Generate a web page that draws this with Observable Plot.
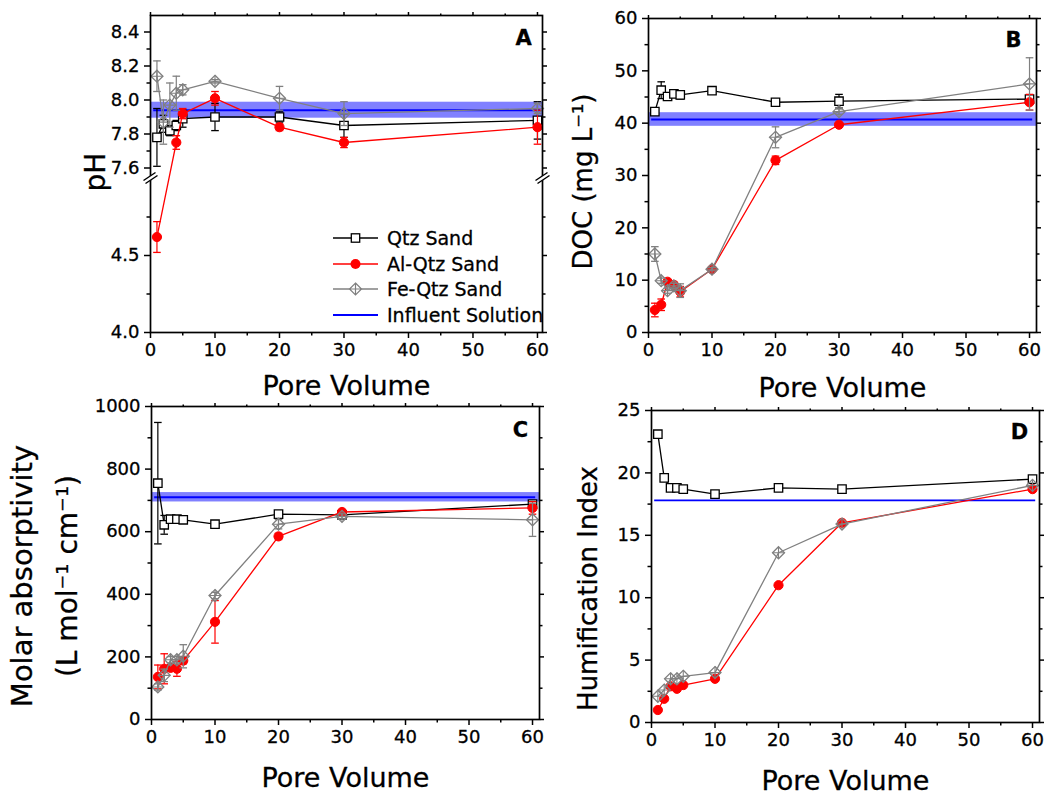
<!DOCTYPE html>
<html><head><meta charset="utf-8">
<script src="https://cdn.jsdelivr.net/npm/d3@7"></script>
<script src="https://cdn.jsdelivr.net/npm/@observablehq/plot@0.6"></script>
<style>
body{margin:0;background:#fff;}
#wrap{position:relative;width:1047px;height:797px;overflow:hidden;font-family:"DejaVu Sans",sans-serif;background:#fff;}
#wrap > *{position:absolute;}
#wrap text{stroke:#000;stroke-width:0.3px;}
</style></head><body><div id="wrap"></div>
<script>
// ---------------- data ----------------
const poreVolume = [1, 2, 3, 4, 5, 10, 20, 30, 60];
const seriesNames = ["Qtz Sand", "Al-Qtz Sand", "Fe-Qtz Sand", "Influent Solution"];

// A: pH
const phQtz    = [7.78, 7.86, 7.82, 7.85, 7.89, 7.90, 7.90, 7.85, 7.88];
const phQtzErr = [0.17, 0.05, 0.03, 0.03, 0.05, 0.08, 0.03, 0.07, 0.11];
const phAlX    = [1, 4, 5, 10, 20, 30, 60];
const phAl     = [4.62, 7.75, 7.92, 8.01, 7.84, 7.75, 7.84];
const phAlErr  = [0.10, 0.04, 0.03, 0.04, 0.02, 0.03, 0.10];
const phFe     = [8.14, 7.87, 7.97, 8.04, 8.06, 8.11, 8.01, 7.92, 7.95];
const phFeErr  = [0.09, 0.13, 0.13, 0.10, 0.03, 0.01, 0.07, 0.07, 0.03];
const phInfluent = [7.94], phInfluentSd = [0.047];
const phTicks = [4.0, 4.5, 7.6, 7.8, 8.0, 8.2, 8.4];
const phMinorTicks = [4.25, 4.75, 7.7, 7.9, 8.1, 8.3];

// B: DOC (mg/L)
const docQtz    = [42.2, 46.3, 45.1, 45.6, 45.4, 46.2, 44.0, 44.2, 44.6];
const docQtzErr = [0.3, 1.6, 0.3, 0.3, 0.8, 0.3, 0.4, 1.3, 0.5];
const docAl     = [4.3, 5.3, 9.7, 9.1, 7.8, 12.1, 32.9, 39.7, 44.0];
const docAlErr  = [1.3, 1.1, 0.4, 0.5, 1.0, 0.4, 0.8, 0.3, 1.5];
const docFe     = [15.0, 9.9, 8.0, 8.9, 8.0, 12.1, 37.3, 42.2, 47.5];
const docFeErr  = [1.4, 0.5, 0.5, 0.5, 1.3, 0.3, 2.0, 0.5, 5.0];
const docInfluent = [40.7], docInfluentSd = [1.3];
const docTicks = [0, 10, 20, 30, 40, 50, 60];
const docMinorTicks = [5, 15, 25, 35, 45, 55];

// C: molar absorptivity
const maQtz    = [755, 622, 640, 640, 638, 624, 656, 654, 688];
const maQtzErr = [194, 30, 8, 8, 5, 5, 8, 8, 8];
const maAl     = [136, 162, 165, 162, 188, 312, 585, 663, 676];
const maAlErr  = [38, 48, 10, 24, 10, 68, 10, 8, 20];
const maFe     = [104, 141, 191, 191, 202, 396, 624, 649, 638];
const maFeErr  = [10, 20, 10, 10, 37, 10, 15, 8, 53];
const maInfluent = [710], maInfluentSd = [15];
const maTicks = [0, 200, 400, 600, 800, 1000];
const maMinorTicks = [100, 300, 500, 700, 900];

// D: humification index
const hixQtz = [23.1, 19.6, 18.8, 18.8, 18.7, 18.3, 18.8, 18.7, 19.5];
const hixAl  = [1.0, 1.9, 2.9, 2.7, 3.0, 3.5, 11.0, 16.0, 18.7];
const hixFe  = [2.1, 2.6, 3.5, 3.5, 3.7, 4.0, 13.6, 15.9, 19.0];
const hixInfluent = [17.8];
const hixTicks = [0, 5, 10, 15, 20, 25];
const hixMinorTicks = [2.5, 7.5, 12.5, 17.5, 22.5];

const xTicks = [0, 10, 20, 30, 40, 50, 60];
const xMinorTicks = [5, 15, 25, 35, 45, 55];
const influentSpan = [0.5, 60.5];

// ---------------- styling ----------------
const FONT = "DejaVu Sans";
const C_QTZ = "#000000", C_AL = "#ff0000", C_FE = "#808080", C_INF = "#0000ff", C_BAND = "#8080ff";

const squareSym  = {draw(c){const s=4.2; c.moveTo(-s,-s); c.lineTo(s,-s); c.lineTo(s,s); c.lineTo(-s,s); c.closePath();}};
const diamondSym = {draw(c){const s=6; c.moveTo(0,-s); c.lineTo(s,0); c.lineTo(0,s); c.lineTo(-s,0); c.closePath();}};
const plusSym    = {draw(c){const s=6; c.moveTo(-s,0); c.lineTo(s,0); c.moveTo(0,-s); c.lineTo(0,s);}};
const capSym     = {draw(c){const s=3.8; c.moveTo(-s,0); c.lineTo(s,0);}};
const breakFill  = {draw(c){c.moveTo(-7,3); c.lineTo(5,-5); c.lineTo(7,-2); c.lineTo(-5,6); c.closePath();}};
const breakLines = {draw(c){c.moveTo(-7,3); c.lineTo(5,-5); c.moveTo(-5,6); c.lineTo(7,-2);}};

function rows(xs, ys, es, tf = v => v) {
  return xs.map((x, i) => {
    const e = es ? es[i] : 0;
    return {x, y: tf(ys[i]), lo: tf(ys[i] - e), hi: tf(ys[i] + e)};
  });
}

function seriesMarks(data, kind, withErr) {
  const color = kind === "qtz" ? C_QTZ : kind === "al" ? C_AL : C_FE;
  const m = [];
  if (withErr) {
    m.push(Plot.ruleX(data, {x: "x", y1: "lo", y2: "hi", stroke: color, strokeWidth: 1.2}));
    m.push(Plot.dot(data, {x: "x", y: "lo", symbol: capSym, fill: "none", stroke: color, strokeWidth: 1.3}));
    m.push(Plot.dot(data, {x: "x", y: "hi", symbol: capSym, fill: "none", stroke: color, strokeWidth: 1.3}));
  }
  m.push(Plot.line(data, {x: "x", y: "y", stroke: color, strokeWidth: 1.3}));
  if (kind === "qtz") {
    m.push(Plot.dot(data, {x: "x", y: "y", symbol: squareSym, fill: "white", stroke: C_QTZ, strokeWidth: 1.3}));
  } else if (kind === "al") {
    m.push(Plot.dot(data, {x: "x", y: "y", symbol: "circle", r: 4.6, fill: C_AL, stroke: C_AL, strokeWidth: 1}));
  } else {
    m.push(Plot.dot(data, {x: "x", y: "y", symbol: diamondSym, fill: "none", stroke: C_FE, strokeWidth: 1.3}));
    m.push(Plot.dot(data, {x: "x", y: "y", symbol: plusSym, fill: "none", stroke: C_FE, strokeWidth: 1.1}));
  }
  return m;
}

function axesMarks(yTicksT, yMinorT, yFmt) {
  const common = {label: null, stroke: "black", strokeWidth: 1.5, fontSize: 18};
  const blank = () => "";
  return [
    Plot.axisX(xTicks, {...common, anchor: "bottom", tickSize: 6, tickPadding: 5}),
    Plot.axisX(xMinorTicks, {...common, anchor: "bottom", tickSize: 3.5, tickFormat: blank}),
    Plot.axisX(xTicks, {...common, anchor: "top", tickSize: 4, tickFormat: blank}),
    Plot.axisX(xMinorTicks, {...common, anchor: "top", tickSize: 2.5, tickFormat: blank}),
    Plot.axisY(yTicksT, {...common, anchor: "left", tickSize: 6, tickPadding: 5, tickFormat: yFmt}),
    Plot.axisY(yMinorT, {...common, anchor: "left", tickSize: 3.5, tickFormat: blank}),
    Plot.axisY(yTicksT, {...common, anchor: "right", tickSize: 4, tickFormat: blank}),
    Plot.axisY(yMinorT, {...common, anchor: "right", tickSize: 2.5, tickFormat: blank}),
    Plot.frame({stroke: "black", strokeWidth: 1.7})
  ];
}

function influentMarks(level, sd, xMax, strokeWidth = 2) {
  const m = [];
  if (sd) {
    m.push(Plot.rect([{x1: 0, x2: xMax, y1: level[0] - sd[0], y2: level[0] + sd[0]}],
      {x1: "x1", x2: "x2", y1: "y1", y2: "y2", fill: C_BAND}));
  }
  m.push(Plot.ruleY(level, {x1: influentSpan[0], x2: influentSpan[1], stroke: C_INF, strokeWidth}));
  return m;
}

function textMarks(letter, letterDx, letterDy, xTitleDy, yTitles) {
  const m = [
    Plot.text([letter], {frameAnchor: "top-right", dx: letterDx, dy: letterDy, fontSize: 21, fontWeight: "bold",
      textAnchor: "middle", lineAnchor: "middle", fill: "black"}),
    Plot.text(["Pore Volume"], {frameAnchor: "bottom", dy: xTitleDy, fontSize: 27,
      textAnchor: "middle", lineAnchor: "middle", fill: "black"})
  ];
  for (const t of yTitles) {
    m.push(Plot.text([t.text], {frameAnchor: "left", dx: t.dx, dy: t.dy, rotate: -90, fontSize: t.size,
      textAnchor: "middle", lineAnchor: "middle", fill: "black"}));
  }
  return m;
}

function place(svg, left, top) {
  svg.style.left = left + "px";
  svg.style.top = top + "px";
  document.getElementById("wrap").appendChild(svg);
}

const baseStyle = {background: "transparent", fontFamily: FONT, color: "black", overflow: "visible"};

// ---------------- Panel A (broken pH axis) ----------------
{
  const brk = v => v < 6 ? (v - 4) * 154 : 156 + (v - 7.55) * 170;
  const labelOf = new Map(phTicks.map(v => [brk(v), v.toFixed(1)]));
  const xMax = 60.78;
  const qtz = rows(poreVolume, phQtz, phQtzErr, brk);
  const al = rows(phAlX, phAl, phAlErr, brk);
  const fe = rows(poreVolume, phFe, phFeErr, brk);
  const breakAt = [{x: 0, y: 155}, {x: xMax, y: 155}];
  const svg = Plot.plot({
    width: 560, height: 400, marginLeft: 150, marginRight: 18, marginTop: 15, marginBottom: 68,
    x: {domain: [0, xMax]}, y: {domain: [0, 317]},
    style: baseStyle,
    marks: [
      Plot.rect([{x1: 0, x2: xMax, y1: brk(phInfluent[0] - phInfluentSd[0]), y2: brk(phInfluent[0] + phInfluentSd[0])}],
        {x1: "x1", x2: "x2", y1: "y1", y2: "y2", fill: C_BAND}),
      Plot.ruleY([brk(phInfluent[0])], {x1: influentSpan[0], x2: influentSpan[1], stroke: C_INF, strokeWidth: 2}),
      ...seriesMarks(qtz, "qtz", true),
      ...seriesMarks(al, "al", true),
      ...seriesMarks(fe, "fe", true),
      ...axesMarks(phTicks.map(brk), phMinorTicks.map(brk), t => labelOf.get(t)),
      Plot.dot(breakAt, {x: "x", y: "y", symbol: breakFill, fill: "white", stroke: "none"}),
      Plot.dot(breakAt, {x: "x", y: "y", symbol: breakLines, fill: "none", stroke: "black", strokeWidth: 1.5}),
      ...textMarks("A", -19, 23, 54, [{text: "pH", dx: -54, dy: -2, size: 28}])
    ]
  });
  place(svg, 0, 0);
}

// ---------------- Panel B ----------------
{
  const xMax = 61.1;
  const svg = Plot.plot({
    width: 527, height: 400, marginLeft: 128, marginRight: 11, marginTop: 18, marginBottom: 68,
    x: {domain: [0, xMax]}, y: {domain: [0, 60]},
    style: baseStyle,
    marks: [
      ...influentMarks(docInfluent, docInfluentSd, xMax),
      ...seriesMarks(rows(poreVolume, docQtz, docQtzErr), "qtz", true),
      ...seriesMarks(rows(poreVolume, docAl, docAlErr), "al", true),
      ...seriesMarks(rows(poreVolume, docFe, docFeErr), "fe", true),
      ...axesMarks(docTicks, docMinorTicks, d => String(d)),
      ...textMarks("B", -23, 22, 56, [{text: "DOC (mg L\u207B\u00B9)", dx: -65, dy: 6, size: 26}])
    ]
  });
  place(svg, 520, 0);
}

// ---------------- Panel C ----------------
{
  const xMax = 61.1;
  const svg = Plot.plot({
    width: 560, height: 402, marginLeft: 151, marginRight: 21, marginTop: 11, marginBottom: 78,
    x: {domain: [0, xMax]}, y: {domain: [0, 1000]},
    style: baseStyle,
    marks: [
      ...influentMarks(maInfluent, maInfluentSd, xMax),
      ...seriesMarks(rows(poreVolume, maQtz, maQtzErr), "qtz", true),
      ...seriesMarks(rows(poreVolume, maAl, maAlErr), "al", true),
      ...seriesMarks(rows(poreVolume, maFe, maFeErr), "fe", true),
      ...axesMarks(maTicks, maMinorTicks, d => String(d)),
      ...textMarks("C", -19, 24, 59, [
        {text: "Molar absorptivity", dx: -129, dy: 13, size: 29},
        {text: "(L mol\u207B\u00B9 cm\u207B\u00B9)", dx: -83, dy: 13, size: 28}
      ])
    ]
  });
  place(svg, 0, 395);
}

// ---------------- Panel D ----------------
{
  const xMax = 61.1;
  const svg = Plot.plot({
    width: 527, height: 402, marginLeft: 131, marginRight: 8, marginTop: 15, marginBottom: 75,
    x: {domain: [0, xMax]}, y: {domain: [0, 25]},
    style: baseStyle,
    marks: [
      ...influentMarks(hixInfluent, null, xMax, 1.6),
      ...seriesMarks(rows(poreVolume, hixQtz, null), "qtz", false),
      ...seriesMarks(rows(poreVolume, hixAl, null), "al", false),
      ...seriesMarks(rows(poreVolume, hixFe, null), "fe", false),
      ...axesMarks(hixTicks, hixMinorTicks, d => String(d)),
      ...textMarks("D", -20, 22, 59, [{text: "Humification Index", dx: -63, dy: 22, size: 26}])
    ]
  });
  place(svg, 520, 395);
}

// ---------------- Legend (inside panel A) ----------------
{
  const svg = d3.create("svg").attr("width", 220).attr("height", 104)
    .style("font-family", FONT).style("overflow", "visible");
  const rowsY = [12, 38, 63, 89];
  const colors = [C_QTZ, C_AL, C_FE, C_INF];
  seriesNames.forEach((name, i) => {
    const g = svg.append("g").attr("transform", `translate(0,${rowsY[i]})`);
    g.append("line").attr("x1", 3).attr("x2", 48).attr("y1", 0).attr("y2", 0)
      .attr("stroke", colors[i]).attr("stroke-width", i === 3 ? 2 : 1.4);
    const cx = 25.5;
    if (i === 0) {
      g.append("rect").attr("x", cx - 4.2).attr("y", -4.2).attr("width", 8.4).attr("height", 8.4)
        .attr("fill", "white").attr("stroke", C_QTZ).attr("stroke-width", 1.3);
    } else if (i === 1) {
      g.append("circle").attr("cx", cx).attr("cy", 0).attr("r", 5).attr("fill", C_AL);
    } else if (i === 2) {
      g.append("path").attr("d", `M${cx},-6L${cx+6},0L${cx},6L${cx-6},0Z M${cx-6},0H${cx+6} M${cx},-6V6`)
        .attr("fill", "white").attr("stroke", C_FE).attr("stroke-width", 1.2);
    }
    g.append("text").attr("x", 57).attr("y", 0).attr("dy", "0.36em")
      .attr("font-size", 19).attr("fill", "black").text(name);
  });
  const node = svg.node();
  node.style.left = "330px";
  node.style.top = "226px";
  document.getElementById("wrap").appendChild(node);
}
</script>
</body></html>
